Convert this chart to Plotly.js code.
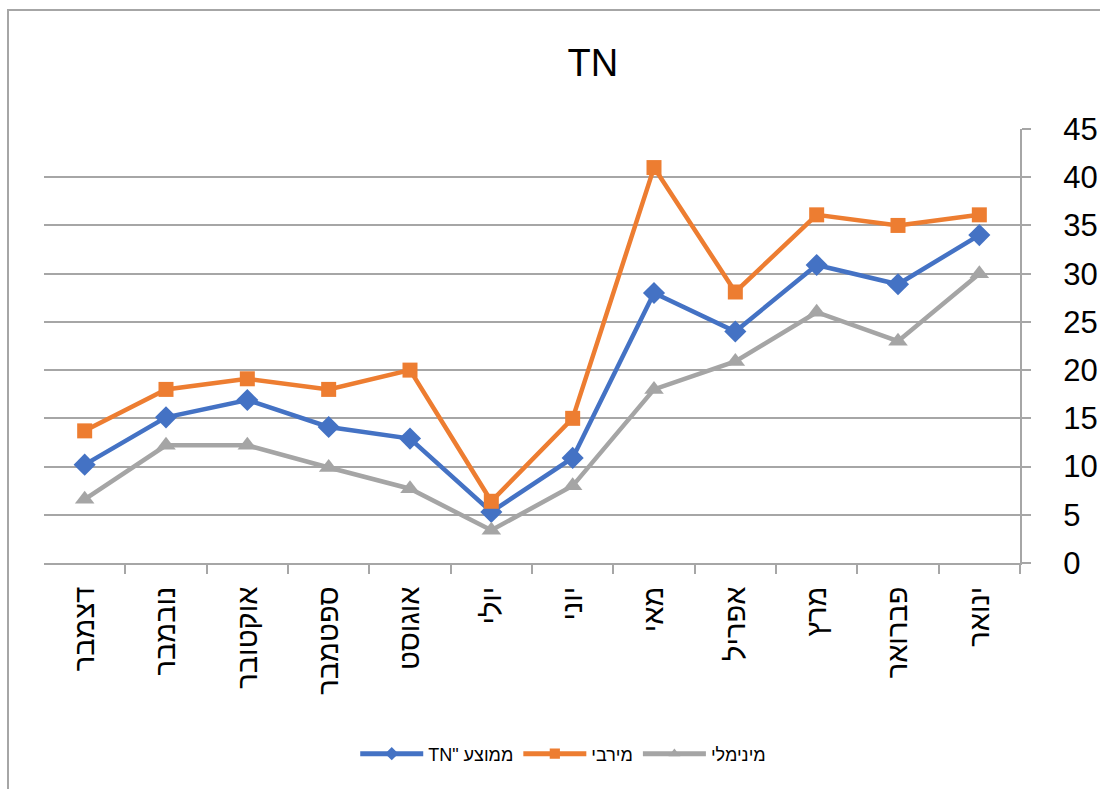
<!DOCTYPE html>
<html>
<head>
<meta charset="utf-8">
<script src="https://cdn.plot.ly/plotly-3.0.1.min.js"></script>
<style>
  html, body { margin: 0; padding: 0; background: #fff; }
  #wrap { position: relative; width: 1100px; height: 789px; overflow: hidden; }
  #chart { position: absolute; left: 0; top: 0; width: 1100px; height: 789px; }
  #frame { position: absolute; left: 7px; top: 9px; width: 1200px; height: 900px;
           border-left: 2px solid #a6a6a6; border-top: 2px solid #a6a6a6; pointer-events: none; }
</style>
</head>
<body>
<div id="wrap">
  <div id="chart"></div>
  <div id="frame"></div>
</div>
<script>
// Months in calendar order (axis is drawn reversed, right-to-left)
const months = ['ינואר', 'פברואר', 'מרץ', 'אפריל', 'מאי', 'יוני', 'יולי', 'אוגוסט', 'ספטמבר', 'אוקטובר', 'נובמבר', 'דצמבר'];
const avgTN = [34, 28.9, 30.9, 24, 28, 10.9, 5.3, 12.9, 14.1, 16.9, 15.1, 10.2];
const maxTN = [36.1, 35, 36.1, 28.1, 41, 15, 6.4, 20, 18, 19.1, 18, 13.7];
const minTN = [30, 23, 26, 20.9, 18, 8, 3.4, 7.7, 9.9, 12.2, 12.2, 6.6];
const seriesNames = ['TN" ממוצע', 'מירבי', 'מינימלי'];
const yTicks = [0, 5, 10, 15, 20, 25, 30, 35, 40, 45];

const font = 'Liberation Sans, Arial, sans-serif';

const traces = [
  { x: months, y: avgTN, name: seriesNames[0], type: 'scatter', mode: 'lines+markers',
    line: { color: '#4472C4', width: 4.5 }, marker: { symbol: 'diamond', size: 17, color: '#4472C4' } },
  { x: months, y: maxTN, name: seriesNames[1], type: 'scatter', mode: 'lines+markers',
    line: { color: '#ED7D31', width: 4.5 }, marker: { symbol: 'square', size: 15, color: '#ED7D31' } },
  { x: months, y: minTN, name: seriesNames[2], type: 'scatter', mode: 'lines+markers',
    line: { color: '#A5A5A5', width: 4.5 }, marker: { symbol: 'triangle-up', size: 17, color: '#A5A5A5' } }
];

const layout = {
  width: 1100, height: 789,
  margin: { l: 44, r: 80, t: 129, b: 226 },
  paper_bgcolor: '#ffffff', plot_bgcolor: '#ffffff',
  font: { family: font, color: '#000' },
  title: { text: 'TN', font: { family: font, size: 38, color: '#000' },
           x: 0.539, xref: 'container', xanchor: 'center', y: 0.921, yref: 'container', yanchor: 'middle' },
  xaxis: {
    type: 'category', range: [11.5, -0.5], autorange: false, tickson: 'boundaries',
    ticks: 'outside', ticklen: 9, tickwidth: 2, tickcolor: '#a6a6a6',
    showline: true, linecolor: '#a6a6a6', linewidth: 2, showgrid: false,
    tickangle: -90, tickfont: { family: font, size: 29, color: '#000' },
    ticklabelstandoff: 10, zeroline: false
  },
  yaxis: {
    side: 'right', range: [0, 45], autorange: false, tickvals: yTicks, ticktext: yTicks.map(String),
    ticks: 'outside', ticklen: 9, tickwidth: 2, tickcolor: '#a6a6a6',
    showline: true, linecolor: '#a6a6a6', linewidth: 2,
    showgrid: true, gridcolor: '#a6a6a6', gridwidth: 2, zeroline: false,
    tickfont: { family: font, size: 31, color: '#000' }, ticklabelstandoff: 26
  },
  showlegend: true,
  legend: { orientation: 'h', x: 0.532, xanchor: 'center', y: -0.44, yanchor: 'middle',
            font: { family: font, size: 18, color: '#000' }, itemwidth: 63, itemsizing: 'constant',
            bgcolor: 'rgba(0,0,0,0)' },
  hovermode: false
};

Plotly.newPlot('chart', traces, layout, { staticPlot: true, displayModeBar: false }).then(function (gd) {
  // Lengthen the legend line samples to fill the item width, and centre a smaller marker on them
  gd.querySelectorAll('.legend .legendlines path').forEach(function (p) { p.setAttribute('d', 'M5,0h63'); });
  gd.querySelectorAll('.legend .legendpoints path').forEach(function (p) { p.setAttribute('transform', 'translate(36.5,0) scale(0.85)'); });
});
</script>
</body>
</html>
